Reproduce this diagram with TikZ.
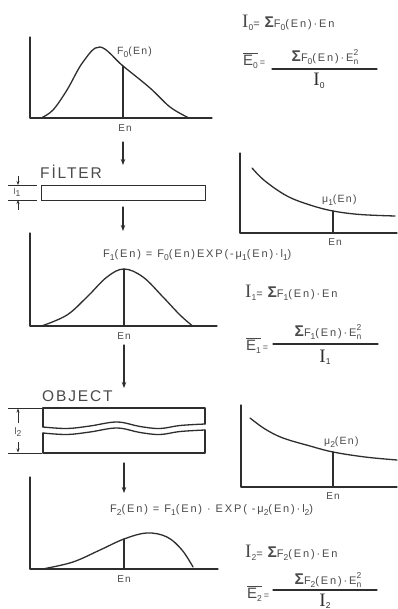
\documentclass[tikz,border=0pt]{standalone}
\usepackage{fontspec}
\setmainfont{Liberation Sans}[LetterSpace=12]
\newfontfamily\eqfont{Liberation Sans}[LetterSpace=17]
\newfontfamily\serifI{Liberation Serif}
\usetikzlibrary{arrows.meta}
\definecolor{inkc}{HTML}{2E2E2E}
\definecolor{txtc}{HTML}{4A4A4A}
\newcommand\lsb[1]{\raisebox{-0.45ex}{\fontsize{8.5}{8.5}\selectfont #1}}
\newcommand\BigI[1]{{\fontsize{19}{19}\selectfont\serifI I}\lsb{#1}}
\newcommand\Sig{{\fontsize{15.5}{15.5}\selectfont\bfseries Σ}}
\newcommand\Esq{E\rlap{\raisebox{1.0ex}{\fontsize{8.5}{8.5}\selectfont 2}}\raisebox{-0.45ex}{\fontsize{8.5}{8.5}\selectfont n}}
\newcommand\Ebar[1]{$\overline{\mbox{\fontsize{15}{15}\selectfont E\lsb{#1}}}$\,{\fontsize{9}{9}\selectfont=}}
\begin{document}
\begin{tikzpicture}[x=1pt,y=-1pt,
  ln/.style={line width=1.3pt, draw=inkc, line cap=round, line join=round},
  thin/.style={line width=0.75pt, draw=inkc},
  flow/.style={ln, -{Stealth[length=6pt,width=4.5pt]}},
  dimar/.style={line width=0.75pt, draw=inkc, -{Stealth[length=4pt,width=3pt]}},
  lbl/.style={text=txtc, inner sep=0pt, font=\fontsize{10.5}{12}\selectfont},
  small/.style={text=txtc, inner sep=0pt, font=\fontsize{10}{11}\selectfont},
  big/.style={text=txtc, inner sep=0pt, font=\fontsize{15.5}{18}\selectfont},
  eq/.style={text=txtc, inner sep=0pt, anchor=west, font=\eqfont\fontsize{11}{12}\selectfont},
]
\useasboundingbox (0,0) rectangle (397,609);
\fill[white] (0,0) rectangle (397,609);

% ---------- plot F0 ----------
\draw[ln] (30,37) -- (30,118) -- (212,118);
\draw[ln] plot[smooth, tension=0.6] coordinates {(42,117.5) (53,110) (67,90) (83,62) (100,47) (123,66) (150,88) (170,107) (188,117.5)};
\draw[ln] (123,66) -- (123,118);
\node[lbl, anchor=west] (f0) at (117,52) {F\lsb{0}(En)};
\node[small] (en1) at (125,128) {En};

% ---------- equations 0 ----------
\node[eq] (i0eq) at (242,23) {\BigI{0}= \Sig F\lsb{0}(En)·En};
\node[eq] (e0) at (243,61) {\Ebar{0}};
\node[eq, anchor=center] (n0) at (325,57) {\Sig F\lsb{0}(En)·\Esq};
\draw[ln] (272,69) -- (377,69);
\node[text=inkc, inner sep=0pt] (d0) at (319,81) {\BigI{0}};

% ---------- flow arrow 1 ----------
\coordinate (a1s) at (123,142);
\coordinate (a1e) at (123,165);
\draw[flow] (a1s) -- (a1e);

% ---------- filter ----------
\node[big, anchor=west] (filtxt) at (40,172) {FİLTER};
\node[draw=inkc, line width=1.3pt, minimum width=164pt, minimum height=15pt, inner sep=0pt, anchor=north west] (filter) at (41,185) {};
\coordinate (d1a) at (8,185);  \coordinate (d1b) at (37,185);
\coordinate (d1c) at (8,200);  \coordinate (d1d) at (37,200);
\draw[thin] (d1a) -- (d1b);
\draw[thin] (d1c) -- (d1d);
\coordinate (d1t) at (18,176); \coordinate (d1tt) at (18,185);
\coordinate (d1u) at (18,210); \coordinate (d1uu) at (18,200);
\draw[dimar] (d1t) -- (d1tt);
\draw[dimar] (d1u) -- (d1uu);
\node[small, font=\fontsize{8.5}{8.5}\selectfont] (l1) at (17,192) {l\lsb{1}};

% ---------- flow arrow 2 ----------
\coordinate (a2s) at (123,207);
\coordinate (a2e) at (123,231);
\draw[flow] (a2s) -- (a2e);

% ---------- plot mu1 ----------
\draw[ln] (240,153) -- (240,233) -- (397,233);
\draw[ln] plot[smooth, tension=0.6] coordinates {(252,168) (265,181) (287,196) (310,205) (333,211) (360,214.5) (395,216)};
\draw[ln] (333,211) -- (333,233);
\node[lbl, anchor=west] (mu1) at (322,200) {μ\lsb{1}(En)};
\node[small] (en2) at (335,242) {En};

% ---------- formula 1 ----------
\node[eq] (form1) at (103,255) {F\lsb{1}(En) = F\lsb{0}(En)EXP(-μ\lsb{1}(En)·l\lsb{1})};

% ---------- plot F1 ----------
\draw[ln] (30,233) -- (30,326) -- (217,326);
\draw[ln] plot[smooth, tension=0.6] coordinates {(43,325.5) (67,315) (87,297) (107,277) (124,269) (143,277) (163,297) (180,315) (192,325.5)};
\draw[ln] (124,269) -- (124,326);
\node[small] (en3) at (124,336) {En};

% ---------- equations 1 ----------
\node[eq] (i1eq) at (245,293) {\BigI{1}= \Sig F\lsb{1}(En)·En};
\node[eq] (e1) at (246,346) {\Ebar{1}};
\node[eq, anchor=center] (n1) at (328,332) {\Sig F\lsb{1}(En)·\Esq};
\draw[ln] (273,344) -- (378,344);
\node[text=inkc, inner sep=0pt] (d1) at (325,357) {\BigI{1}};

% ---------- flow arrow 3 ----------
\coordinate (a3s) at (124,345);
\coordinate (a3e) at (124,388);
\draw[flow] (a3s) -- (a3e);

% ---------- object ----------
\node[big, anchor=west] (objtxt) at (42,396) {OBJECT};
\draw[ln] (43,427) -- (43,408) -- (205,408) -- (205,424);
\draw[ln] plot[smooth, tension=0.6] coordinates {(43,427) (67,428.5) (90,426) (117,422) (140,426.5) (160,428.5) (180,425.5) (205,424)};
\draw[ln] (43,433) -- (43,453) -- (205,453) -- (205,430);
\draw[ln] plot[smooth, tension=0.6] coordinates {(43,433) (67,434.5) (90,432) (117,428) (140,432.5) (160,434.5) (180,431.5) (205,430)};
\coordinate (d2a) at (8,408);  \coordinate (d2b) at (42,408);
\coordinate (d2c) at (8,453);  \coordinate (d2d) at (42,453);
\draw[thin] (d2a) -- (d2b);
\draw[thin] (d2c) -- (d2d);
\node[small, font=\fontsize{9.5}{9.5}\selectfont] (l2) at (18,432) {l\lsb{2}};
\coordinate (d2t) at (18,408.5); \coordinate (d2u) at (18,452.5);
\draw[dimar] (l2.north |- 0,423) -- (d2t);
\draw[dimar] (l2.south |- 0,442) -- (d2u);

% ---------- flow arrow 4 ----------
\coordinate (a4s) at (124,463);
\coordinate (a4e) at (124,493);
\draw[flow] (a4s) -- (a4e);

% ---------- plot mu2 ----------
\draw[ln] (241,405) -- (241,487) -- (397,487);
\draw[ln] plot[smooth, tension=0.6] coordinates {(250,418) (265,429) (283,438) (310,446) (333,452) (365,457) (397,460)};
\draw[ln] (333,452) -- (333,487);
\node[lbl, anchor=west] (mu2) at (324,442) {μ\lsb{2}(En)};
\node[small] (en4) at (333,496) {En};

% ---------- formula 2 ----------
\node[eq] (form2) at (110,510) {F\lsb{2}(En) = F\lsb{1}(En) · EXP( -μ\lsb{2}(En)·l\lsb{2})};

% ---------- plot F2 ----------
\draw[ln] (30,477) -- (30,569) -- (218,569);
\draw[ln] plot[smooth, tension=0.6] coordinates {(45,568.5) (73,562) (100,550) (124,539) (147,533) (167,537) (182,550) (193,567)};
\draw[ln] (124,539) -- (124,569);
\node[small] (en5) at (124,579) {En};

% ---------- equations 2 ----------
\node[eq] (i2eq) at (245,553) {\BigI{2}= \Sig F\lsb{2}(En)·En};
\node[eq] (e2) at (247,594) {\Ebar{2}};
\node[eq, anchor=center] (n2) at (328,580) {\Sig F\lsb{2}(En)·\Esq};
\draw[ln] (273,590) -- (377,590);
\node[text=inkc, inner sep=0pt] (d2) at (325,601) {\BigI{2}};
\end{tikzpicture}
\end{document}
